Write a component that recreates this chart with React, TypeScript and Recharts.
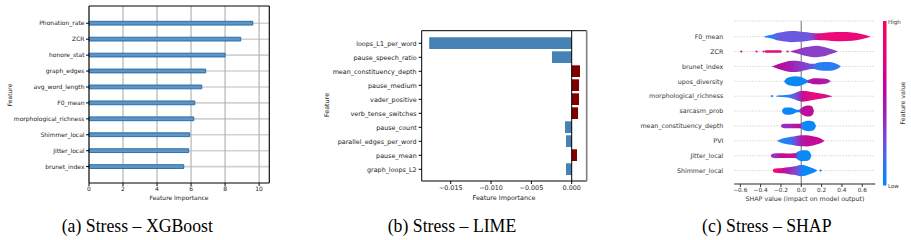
import React from 'react';
import {
  BarChart,
  Bar,
  Cell,
  ComposedChart,
  Area,
  Scatter,
  XAxis,
  YAxis,
  CartesianGrid,
  ReferenceLine,
} from 'recharts';

const SANS = '"DejaVu Sans", sans-serif';

// (a) XGBoost importance
const xgbFeatures = [
  'Phonation_rate',
  'ZCR',
  'honore_stat',
  'graph_edges',
  'avg_word_length',
  'F0_mean',
  'morphological_richness',
  'Shimmer_local',
  'Jitter_local',
  'brunet_index',
];
const xgbImportance = [9.63, 8.92, 8.0, 6.86, 6.63, 6.22, 6.16, 5.92, 5.86, 5.57];
const xgbTicks = [0, 2, 4, 6, 8, 10];

// (b) LIME weights
const limeFeatures = [
  'loops_L1_per_word',
  'pause_speech_ratio',
  'mean_constituency_depth',
  'pause_medium',
  'vader_positive',
  'verb_tense_switches',
  'pause_count',
  'parallel_edges_per_word',
  'pause_mean',
  'graph_loops_L2',
];
const limeWeights = [
  -0.01767, -0.00244, 0.00103, 0.00091, 0.00091, 0.00079, -0.00083, -0.00071, 0.00066,
  -0.00071,
];
const limeTicks = [-0.015, -0.01, -0.005, 0];

// (c) SHAP violin summary: [shap value, half width (rows), colour]
type ViolinPoint = [number, number | null, string];

const shapFeatures = [
  'F0_mean',
  'ZCR',
  'brunet_index',
  'upos_diversity',
  'morphological_richness',
  'sarcasm_prob',
  'mean_constituency_depth',
  'PVI',
  'Jitter_local',
  'Shimmer_local',
];
const shapTicks = [-0.6, -0.4, -0.2, 0, 0.2, 0.4, 0.6];

const f0Mean: ViolinPoint[] = [
  [-0.37, 0, '#1a86f6'],
  [-0.33, 0.08, '#1a86f6'],
  [-0.28, 0.15, '#2a7cf2'],
  [-0.24, 0.24, '#5c62e4'],
  [-0.18, 0.31, '#6a5ae0'],
  [-0.1, 0.37, '#6a5ae0'],
  [-0.02, 0.35, '#6a58e0'],
  [0.06, 0.29, '#6e56de'],
  [0.11, 0.24, '#8048d4'],
  [0.16, 0.22, '#d0108e'],
  [0.22, 0.25, '#ea0a7c'],
  [0.3, 0.29, '#ec0878'],
  [0.4, 0.31, '#ec0878'],
  [0.5, 0.28, '#ec0878'],
  [0.58, 0.2, '#ec0878'],
  [0.64, 0.1, '#ec0878'],
  [0.68, 0, '#ec0878'],
];
const zcr: ViolinPoint[] = [
  [-0.36, 0, '#e8087c'],
  [-0.35, 0.08, '#e8087c'],
  [-0.3, 0.09, '#e8087c'],
  [-0.25, 0.09, '#e8087c'],
  [-0.2, 0.08, '#e8087c'],
  [-0.19, 0, '#e8087c'],
  [-0.15, null, '#e8087c'],
  [-0.11, 0, '#b01aa8'],
  [-0.08, 0.07, '#a826b0'],
  [-0.04, 0.14, '#9a30bc'],
  [0.0, 0.22, '#8e3cc6'],
  [0.05, 0.3, '#8a40c8'],
  [0.1, 0.36, '#8a40c8'],
  [0.15, 0.39, '#8a40c8'],
  [0.2, 0.34, '#8a40c8'],
  [0.25, 0.26, '#8a40c8'],
  [0.3, 0.15, '#8a40c8'],
  [0.36, 0, '#8a40c8'],
];
const brunetIndex: ViolinPoint[] = [
  [-0.29, 0, '#b80c9c'],
  [-0.25, 0.1, '#b80c9c'],
  [-0.2, 0.22, '#b40ea0'],
  [-0.15, 0.32, '#ac16a8'],
  [-0.1, 0.38, '#a020b2'],
  [-0.05, 0.38, '#9630bc'],
  [0.0, 0.33, '#8a3cc6'],
  [0.05, 0.25, '#7848d2'],
  [0.1, 0.18, '#6a52da'],
  [0.13, 0.18, '#4a6aea'],
  [0.16, 0.25, '#2a7cf2'],
  [0.22, 0.3, '#2a7cf2'],
  [0.28, 0.29, '#2a7cf2'],
  [0.34, 0.2, '#2a7cf2'],
  [0.39, 0, '#2a7cf2'],
];
const uposDiversity: ViolinPoint[] = [
  [-0.17, 0, '#0a88f8'],
  [-0.15, 0.17, '#0a88f8'],
  [-0.11, 0.29, '#0a88f8'],
  [-0.06, 0.34, '#0a88f8'],
  [-0.01, 0.3, '#0a88f8'],
  [0.03, 0.18, '#0a88f8'],
  [0.06, 0.09, '#3a70ee'],
  [0.08, 0.12, '#a81aaa'],
  [0.12, 0.2, '#b8109e'],
  [0.17, 0.21, '#b8109e'],
  [0.22, 0.18, '#b01aa6'],
  [0.26, 0.13, '#a822ae'],
  [0.29, 0, '#a822ae'],
];
const morphRichness: ViolinPoint[] = [
  [-0.25, 0, '#1a86f6'],
  [-0.23, 0.04, '#1a86f6'],
  [-0.18, 0.06, '#1a86f6'],
  [-0.13, 0.09, '#2a7cf2'],
  [-0.09, 0.15, '#4a6aea'],
  [-0.05, 0.25, '#6a56dc'],
  [-0.02, 0.33, '#9830bc'],
  [0.01, 0.37, '#c0109a'],
  [0.05, 0.34, '#d80a88'],
  [0.1, 0.28, '#e40a80'],
  [0.16, 0.21, '#e40a80'],
  [0.22, 0.14, '#e00c82'],
  [0.27, 0.07, '#d80e88'],
  [0.31, 0, '#d80e88'],
];
const sarcasmProb: ViolinPoint[] = [
  [-0.19, 0, '#0a88f8'],
  [-0.18, 0.15, '#0a88f8'],
  [-0.15, 0.24, '#0a88f8'],
  [-0.11, 0.24, '#0a88f8'],
  [-0.07, 0.16, '#0a88f8'],
  [-0.04, 0.08, '#0a88f8'],
  [-0.02, 0.08, '#3a70ee'],
  [0.0, 0.2, '#b8109e'],
  [0.03, 0.32, '#c00a98'],
  [0.06, 0.37, '#c00a98'],
  [0.09, 0.35, '#c00a98'],
  [0.11, 0.27, '#c00a98'],
  [0.125, 0, '#c00a98'],
];
const meanConstDepth: ViolinPoint[] = [
  [-0.2, 0, '#9a2cbe'],
  [-0.19, 0.11, '#9a2cbe'],
  [-0.16, 0.15, '#9a2cbe'],
  [-0.1, 0.15, '#a424b4'],
  [-0.05, 0.15, '#b0169e'],
  [-0.01, 0.15, '#b8109e'],
  [0.01, 0.24, '#1a86f6'],
  [0.04, 0.32, '#0a88f8'],
  [0.08, 0.35, '#0a88f8'],
  [0.11, 0.31, '#0a88f8'],
  [0.13, 0.22, '#0a88f8'],
  [0.145, 0, '#0a88f8'],
];
const pvi: ViolinPoint[] = [
  [-0.24, 0, '#1a86f6'],
  [-0.2, 0.13, '#1a86f6'],
  [-0.15, 0.21, '#2080f4'],
  [-0.1, 0.27, '#3a74ee'],
  [-0.05, 0.33, '#7a46d6'],
  [0.0, 0.37, '#a81ea8'],
  [0.05, 0.38, '#c0109a'],
  [0.1, 0.33, '#c00e9a'],
  [0.15, 0.25, '#c40c96'],
  [0.2, 0.13, '#c80a94'],
  [0.23, 0, '#c80a94'],
];
const jitterLocal: ViolinPoint[] = [
  [-0.3, 0, '#8a3cc8'],
  [-0.29, 0.12, '#8a3cc8'],
  [-0.25, 0.17, '#9a2ebe'],
  [-0.2, 0.16, '#c0109a'],
  [-0.15, 0.15, '#c80c94'],
  [-0.1, 0.15, '#c80c94'],
  [-0.06, 0.16, '#c00e98'],
  [-0.03, 0.28, '#0a88f8'],
  [0.01, 0.37, '#0a88f8'],
  [0.05, 0.36, '#0a88f8'],
  [0.08, 0.27, '#0a88f8'],
  [0.1, 0, '#0a88f8'],
];
const shimmerLocal: ViolinPoint[] = [
  [-0.28, 0, '#f00870'],
  [-0.27, 0.13, '#f00870'],
  [-0.23, 0.16, '#ea087a'],
  [-0.18, 0.18, '#c80c94'],
  [-0.13, 0.22, '#a820ae'],
  [-0.08, 0.28, '#8e3cc4'],
  [-0.04, 0.33, '#6e52da'],
  [-0.01, 0.38, '#3a70ee'],
  [0.02, 0.37, '#0a88f8'],
  [0.06, 0.3, '#0a88f8'],
  [0.1, 0.2, '#0a88f8'],
  [0.14, 0.08, '#0a88f8'],
  [0.16, 0, '#0a88f8'],
];
const shapViolins = [
  f0Mean,
  zcr,
  brunetIndex,
  uposDiversity,
  morphRichness,
  sarcasmProb,
  meanConstDepth,
  pvi,
  jitterLocal,
  shimmerLocal,
];
// isolated outlier samples
const shapDots = [
  { x: -0.59, y: 1, color: '#c0109a' },
  { x: -0.44, y: 1, color: '#e8087c' },
  { x: -0.37, y: 1, color: '#e8087c' },
  { x: -0.135, y: 1, color: '#e8087c' },
  { x: -0.29, y: 4, color: '#1a86f6' },
  { x: 0.19, y: 9, color: '#0a88f8' },
];

const minus = (v: number, digits: number) =>
  (v < 0 ? '\u2212' : '') + Math.abs(v).toFixed(digits);

function XgbPanel() {
  const data = xgbFeatures.map((name, i) => ({ name, value: xgbImportance[i] }));
  const tick = { fontSize: 6, fill: '#222', fontFamily: SANS };
  return (
    <BarChart
      layout="vertical"
      width={300}
      height={210}
      data={data}
      margin={{ top: 5, right: 29.7, bottom: 0, left: 0 }}
    >
      <CartesianGrid vertical={false} horizontalValues={xgbFeatures} stroke="#d2d2d2" strokeWidth={1.6} />
      <CartesianGrid horizontal={false} stroke="#b4b4b4" strokeWidth={1.2} />
      <XAxis
        type="number"
        domain={[0, 10.6]}
        ticks={xgbTicks}
        height={27}
        tick={tick}
        tickSize={3}
        tickMargin={1}
        stroke="#000"
      />
      {/* top and right spines */}
      <XAxis
        xAxisId="top"
        orientation="top"
        type="number"
        domain={[0, 10.6]}
        height={1}
        tick={false}
        tickLine={false}
        stroke="#000"
      />
      <YAxis
        type="category"
        dataKey="name"
        width={89}
        padding={{ top: 9.3, bottom: 8.4 }}
        interval={0}
        tick={tick}
        tickSize={3}
        tickMargin={1.5}
        stroke="#000"
      />
      <YAxis
        yAxisId="right"
        orientation="right"
        type="category"
        dataKey="name"
        width={1}
        tick={false}
        tickLine={false}
        stroke="#000"
      />
      <Bar
        dataKey="value"
        barSize={3.8}
        fill="#5f95c2"
        stroke="#1f67a8"
        strokeWidth={0.9}
        isAnimationActive={false}
      />
    </BarChart>
  );
}

function LimePanel() {
  const data = limeFeatures.map((name, i) => ({ name, value: limeWeights[i] }));
  const tick = { fontSize: 6.4, fill: '#222', fontFamily: SANS };
  return (
    <BarChart
      layout="vertical"
      width={300}
      height={210}
      data={data}
      margin={{ top: 29.7, right: 12.3, bottom: 0, left: 0 }}
    >
      <XAxis
        type="number"
        domain={[-0.0186, 0.00186]}
        ticks={limeTicks}
        tickFormatter={(v: number) => minus(v, 3)}
        height={29}
        tick={tick}
        tickSize={3}
        tickMargin={1}
        stroke="#000"
      />
      <XAxis
        xAxisId="top"
        orientation="top"
        type="number"
        domain={[-0.0186, 0.00186]}
        height={1}
        tick={false}
        tickLine={false}
        stroke="#000"
      />
      <YAxis
        type="category"
        dataKey="name"
        width={121.7}
        padding={{ top: 5.6, bottom: 4.7 }}
        interval={0}
        tick={tick}
        tickSize={3}
        tickMargin={2}
        stroke="#000"
      />
      <YAxis
        yAxisId="right"
        orientation="right"
        type="category"
        dataKey="name"
        width={1}
        tick={false}
        tickLine={false}
        stroke="#808080"
        strokeWidth={1.6}
      />
      <Bar dataKey="value" barSize={11.7} isAnimationActive={false}>
        {data.map((d) => (
          <Cell key={d.name} fill={d.value < 0 ? '#4682b4' : '#800000'} />
        ))}
      </Bar>
      <ReferenceLine x={0} stroke="#000" strokeWidth={1} />
    </BarChart>
  );
}

function ShapPanel() {
  const rows = shapFeatures.map((_, i) => i);
  return (
    <ComposedChart width={311} height={210} margin={{ top: 21, right: 35.7, bottom: 0, left: 0 }}>
      <defs>
        {shapViolins.map((pts, i) => {
          const drawn = pts.filter((p) => p[1] !== null);
          const x0 = drawn[0][0];
          const x1 = drawn[drawn.length - 1][0];
          return (
            <linearGradient key={i} id={`shap-${i}`} x1="0" y1="0" x2="1" y2="0">
              {drawn.map(([x, , c], j) => (
                <stop key={j} offset={(x - x0) / (x1 - x0)} stopColor={c} />
              ))}
            </linearGradient>
          );
        })}
      </defs>
      {/* dotted row guides and the zero line sit under the violins */}
      <CartesianGrid vertical={false} stroke="#cccccc" strokeWidth={0.8} strokeDasharray="1.5 1.5" />
      <CartesianGrid horizontal={false} verticalValues={[0]} stroke="#999999" strokeWidth={1.4} />
      <XAxis
        type="number"
        dataKey="x"
        domain={[-0.659, 0.728]}
        ticks={shapTicks}
        tickFormatter={(v: number) => minus(v, 1)}
        height={26}
        tick={{ fontSize: 5.8, fill: '#333', fontFamily: SANS }}
        tickSize={3}
        tickMargin={1}
        stroke="#333"
      />
      <YAxis
        type="number"
        domain={[-1.05, 9.9]}
        reversed
        ticks={rows}
        interval={0}
        tickFormatter={(v: number) => shapFeatures[v] ?? ''}
        width={134.3}
        axisLine={false}
        tickLine={false}
        tickSize={0}
        tickMargin={11}
        tick={{ fontSize: 6.3, fill: '#333', fontFamily: SANS }}
      />
      {shapViolins.map((pts, i) => (
        <Area
          key={shapFeatures[i]}
          data={pts.map(([x, hw]) => ({ x, band: hw === null ? null : [i - hw, i + hw] }))}
          dataKey="band"
          type="monotone"
          fill={`url(#shap-${i})`}
          fillOpacity={1}
          stroke="none"
          connectNulls={false}
          isAnimationActive={false}
        />
      ))}
      <Scatter
        data={shapDots}
        dataKey="y"
        isAnimationActive={false}
        shape={(p: any) => <circle cx={p.cx} cy={p.cy} r={1.1} fill={p.payload.color} />}
      />
    </ComposedChart>
  );
}

function Annotations() {
  const t = { fontFamily: SANS, fill: '#222' };
  const cap = { fontFamily: '"Liberation Serif", serif', fontSize: 19.5, fill: '#000' };
  return (
    <svg
      width={911}
      height={240}
      style={{ position: 'absolute', left: 0, top: 0, pointerEvents: 'none' }}
    >
      <defs>
        <linearGradient id="colorbar" x1="0" y1="0" x2="0" y2="1">
          <stop offset="0" stopColor="#ff0052" />
          <stop offset="0.2" stopColor="#e6007c" />
          <stop offset="0.4" stopColor="#c2009f" />
          <stop offset="0.55" stopColor="#a21ab8" />
          <stop offset="0.7" stopColor="#7a44dc" />
          <stop offset="0.82" stopColor="#4a68ee" />
          <stop offset="0.92" stopColor="#1580f7" />
          <stop offset="1" stopColor="#008bfb" />
        </linearGradient>
      </defs>

      <text {...t} fontSize={6} x={9} y={95} textAnchor="middle" dominantBaseline="central" transform="rotate(-90 9 95)">
        Feature
      </text>
      <text {...t} fontSize={6} x={179} y={197.7} textAnchor="middle" dominantBaseline="central">
        Feature Importance
      </text>

      <text {...t} fontSize={6.4} x={326.7} y={105} textAnchor="middle" dominantBaseline="central" transform="rotate(-90 326.7 105)">
        Feature
      </text>
      <text {...t} fontSize={6.4} x={504} y={197.7} textAnchor="middle" dominantBaseline="central">
        Feature Importance
      </text>

      <text {...t} fill="#333" fontSize={6.3} x={805} y={198.7} textAnchor="middle" dominantBaseline="central">
        SHAP value (impact on model output)
      </text>
      <rect x={883} y={21} width={3.5} height={164.5} fill="url(#colorbar)" />
      <text {...t} fill="#333" fontSize={5.5} x={888} y={21.5} dominantBaseline="central">
        High
      </text>
      <text {...t} fill="#333" fontSize={5.5} x={888} y={185.5} dominantBaseline="central">
        Low
      </text>
      <text {...t} fill="#333" fontSize={6.3} x={902.3} y={103} textAnchor="middle" dominantBaseline="central" transform="rotate(-90 902.3 103)">
        Feature value
      </text>

      <text {...cap} transform="translate(61.7 232) scale(0.91 1)">
        (a) Stress – XGBoost
      </text>
      <text {...cap} transform="translate(387.7 232) scale(0.91 1)">
        (b) Stress – LIME
      </text>
      <text {...cap} transform="translate(702 232) scale(0.91 1)">
        (c) Stress – SHAP
      </text>
    </svg>
  );
}

export default function App() {
  return (
    <div
      style={{
        position: 'absolute',
        left: 0,
        top: 0,
        width: 911,
        height: 240,
        background: '#fff',
        fontFamily: SANS,
      }}
    >
      <div style={{ position: 'absolute', left: 0, top: 0 }}>
        <XgbPanel />
      </div>
      <div style={{ position: 'absolute', left: 300, top: 0 }}>
        <LimePanel />
      </div>
      <div style={{ position: 'absolute', left: 600, top: 0 }}>
        <ShapPanel />
      </div>
      <Annotations />
    </div>
  );
}
